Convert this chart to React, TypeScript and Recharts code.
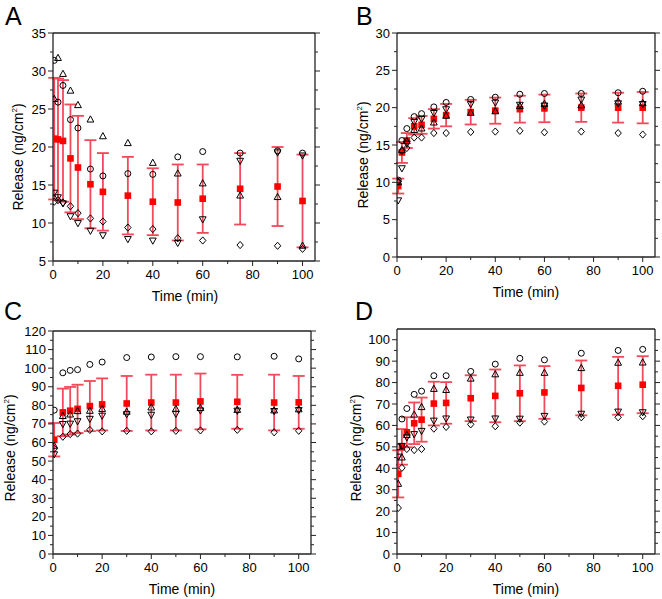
import { ErrorBar, Scatter, ScatterChart, XAxis, YAxis } from "recharts";

const TIMES = [0.5, 2, 4, 7, 10, 15, 20, 30, 40, 50, 60, 75, 90, 100];
const TIMES_C = [0.5, 4, 7, 10, 15, 20, 30, 40, 50, 60, 75, 90, 100];
const X_TICKS = [0, 10, 20, 30, 40, 50, 60, 70, 80, 90, 100];

// A
const A_CIRCLE = [31.4, 25.9, 28.1, 23.6, 22.5, 17.1, 16.2, 16.5, 16.4, 18.7, 19.4, 19.2, 19.5, 19.2];
const A_UP = [26.3, 31.7, 29.6, 27.4, 25.5, 23.6, 21.4, 20.5, 17.9, 16.5, 15.2, 13.6, 13.4, 7.0];
const A_DOWN = [14.0, 13.4, 12.6, 10.9, 10.0, 9.0, 8.4, 7.9, 7.7, 7.4, 10.5, 18.2, 19.3, 18.9];
const A_DIAMOND = [12.8, 13.0, 12.7, 12.2, 11.3, 10.6, 10.2, 9.4, 9.2, 8.0, 7.7, 7.1, 7.0, 6.6];
const A_MEAN = [21.1, 21.0, 20.8, 18.5, 17.3, 15.1, 14.1, 13.6, 12.8, 12.7, 13.2, 14.5, 14.8, 12.9];
const A_SD = [8.0, 8.0, 8.0, 7.1, 6.8, 5.8, 5.1, 5.1, 4.4, 5.0, 4.5, 4.7, 5.2, 6.1];
const A_YTICKS = [5, 7.5, 10, 12.5, 15, 17.5, 20, 22.5, 25, 27.5, 30, 32.5, 35];

// B
const B_CIRCLE = [10.3, 15.6, 17.2, 18.8, 19.2, 20.1, 20.7, 21.1, 21.4, 21.8, 21.9, 21.9, 22.0, 22.2];
const B_UP = [10.0, 14.3, 15.5, 17.0, 17.2, 18.0, 18.9, 19.3, 19.5, 20.2, 20.5, 20.3, 20.8, 20.6];
const B_DOWN = [7.6, 11.9, 15.2, 18.1, 18.5, 19.3, 19.8, 20.5, 20.7, 20.4, 20.3, 21.1, 20.6, 20.5];
const B_DIAMOND = [10.1, 14.2, 14.6, 16.0, 16.0, 16.6, 16.6, 16.75, 16.8, 16.9, 16.7, 16.8, 16.6, 16.4];
const B_MEAN = [9.5, 14.0, 15.6, 17.5, 17.7, 18.5, 19.0, 19.4, 19.6, 19.8, 19.9, 20.0, 20.0, 20.0];
const B_SD = [1.0, 1.4, 1.0, 1.1, 1.2, 1.3, 1.5, 1.65, 1.75, 1.8, 1.85, 1.9, 2.0, 2.1];
const B_YTICKS = [0, 2.5, 5, 7.5, 10, 12.5, 15, 17.5, 20, 22.5, 25, 27.5, 30];

// C
const C_CIRCLE = [77.4, 97.5, 98.8, 99.2, 102, 103.3, 105.7, 106, 106.2, 106.2, 106.1, 106.4, 105];
const C_UP = [58.2, 74.2, 75, 76.8, 77, 78, 76.5, 78.8, 78, 78.5, 77.5, 77.2, 77.8];
const C_DOWN = [53.7, 70, 70.2, 71.5, 72.8, 74.5, 75.3, 75, 75.5, 77.3, 77.2, 77, 77.5];
const C_DIAMOND = [56.7, 63.1, 64.5, 64.8, 66.8, 66, 66.3, 66, 66.3, 66.5, 66.8, 65.5, 66.3];
const C_MEAN = [61.5, 76.2, 77.1, 78.1, 79.6, 80.5, 81.0, 81.5, 81.5, 82.1, 81.9, 81.5, 81.6];
const C_SD = [9, 12.8, 12.8, 13, 13.5, 14, 14.8, 15, 15, 15, 14.5, 15, 14.2];
const C_YTICKS = [0, 5, 10, 15, 20, 25, 30, 35, 40, 45, 50, 55, 60, 65, 70, 75, 80, 85, 90, 95, 100, 105, 110, 115, 120];

// D
const D_CIRCLE = [50, 63, 67.9, 74.5, 76, 83.2, 83.2, 85.2, 88.6, 91.3, 90.6, 93.7, 95, 95.5];
const D_UP = [32.7, 45, 55.5, 65, 68.5, 77, 76.5, 81.8, 83.8, 84.5, 84.5, 86.7, 89.2, 89.3];
const D_DOWN = [45.5, 50.5, 54.5, 56, 57.5, 62.3, 63.3, 62.8, 63.3, 63.2, 64.5, 65.5, 66.5, 66.2];
const D_DIAMOND = [21.5, 40.2, 49, 48.5, 49, 58.5, 59.3, 60.5, 59.6, 61.3, 61.8, 63.8, 63.8, 64.3];
const D_MEAN = [37.4, 50, 56.8, 61, 62.7, 70.2, 70.5, 72.7, 73.8, 75, 75.4, 77.5, 78.5, 79];
const D_SD = [11, 8.3, 7, 9.7, 10.3, 10.2, 9.7, 10.7, 12.3, 13, 12.3, 12.8, 13.5, 13.3];
const D_YTICKS = [0, 5, 10, 15, 20, 25, 30, 35, 40, 45, 50, 55, 60, 65, 70, 75, 80, 85, 90, 95, 100];

const FONT = "Arial, 'Liberation Sans', Helvetica, sans-serif";
const AXIS = "#222";
const RED = "#ff0000";
const BAR = "#f24a58";

type Side = "bottom" | "top" | "left" | "right";
type Kind = "circle" | "up" | "down" | "diamond";

const tickFn = (side: Side, step: number, labels: boolean) => (props: any) => {
  const { x, y, payload } = props;
  const v = payload.value as number;
  const major = Math.abs(v / step - Math.round(v / step)) < 1e-6;
  const len = major ? 5 : 3;
  let line;
  let label = null;
  if (side === "bottom") {
    line = <line x1={x} y1={y} x2={x} y2={y + len} stroke={AXIS} strokeWidth={1} />;
    if (labels && major)
      label = (
        <text x={x} y={y + 18} textAnchor="middle" fontSize={13} fontFamily={FONT} fill="#000">
          {v}
        </text>
      );
  } else if (side === "top") {
    line = <line x1={x} y1={y} x2={x} y2={y - len} stroke={AXIS} strokeWidth={1} />;
  } else if (side === "left") {
    line = <line x1={x} y1={y} x2={x - len} y2={y} stroke={AXIS} strokeWidth={1} />;
    if (labels && major)
      label = (
        <text x={x - 7} y={y + 4.5} textAnchor="end" fontSize={13} fontFamily={FONT} fill="#000">
          {v}
        </text>
      );
  } else {
    line = <line x1={x} y1={y} x2={x + len} y2={y} stroke={AXIS} strokeWidth={1} />;
  }
  return (
    <g>
      {line}
      {label}
    </g>
  );
};

const marker = (kind: Kind) => (p: any) => {
  const { cx, cy } = p;
  if (cx == null || cy == null) return <g />;
  const common = { fill: "none", stroke: "#000", strokeWidth: 1 };
  if (kind === "circle") return <circle cx={cx} cy={cy} r={3} {...common} />;
  if (kind === "up")
    return <polygon points={`${cx},${cy - 3.8} ${cx - 3.4},${cy + 2.4} ${cx + 3.4},${cy + 2.4}`} {...common} />;
  if (kind === "down")
    return <polygon points={`${cx},${cy + 3.8} ${cx - 3.4},${cy - 2.4} ${cx + 3.4},${cy - 2.4}`} {...common} />;
  return <polygon points={`${cx},${cy - 3.6} ${cx + 3.2},${cy} ${cx},${cy + 3.6} ${cx - 3.2},${cy}`} {...common} />;
};

const square = (p: any) => {
  const { cx, cy } = p;
  if (cx == null || cy == null) return <g />;
  return <rect x={cx - 3.3} y={cy - 3.3} width={6.6} height={6.6} fill={RED} />;
};

interface PanelProps {
  left: number;
  top: number;
  plot: { l: number; r: number; t: number; b: number };
  times: number[];
  circle: number[];
  up: number[];
  down: number[];
  diamond: number[];
  mean: number[];
  sd: number[];
  yDomain: [number, number];
  yTicks: number[];
  yStep: number;
}

function Panel(p: PanelProps) {
  const W = 331;
  const H = 300;
  const margin = {
    left: p.plot.l - 40,
    right: W - p.plot.r - 6,
    top: p.plot.t - 6,
    bottom: H - p.plot.b - 30,
  };
  const pts = (arr: number[]) => p.times.map((t, i) => ({ x: t, y: arr[i] }));
  const meanRows = p.times.map((t, i) => ({ x: t, y: p.mean[i], sd: p.sd[i] }));
  const axisLine = { stroke: AXIS, strokeWidth: 1.3 };
  return (
    <div style={{ position: "absolute", left: p.left, top: p.top }}>
      <ScatterChart width={W} height={H} margin={margin}>
        <XAxis
          xAxisId={0}
          dataKey="x"
          type="number"
          domain={[0, 105]}
          allowDataOverflow
          ticks={X_TICKS}
          interval={0}
          height={30}
          tickSize={0}
          tickMargin={0}
          tickLine={false}
          axisLine={axisLine}
          tick={tickFn("bottom", 20, true)}
        />
        <XAxis
          xAxisId="top"
          orientation="top"
          type="number"
          domain={[0, 105]}
          allowDataOverflow
          ticks={X_TICKS}
          interval={0}
          height={6}
          tickSize={0}
          tickMargin={0}
          tickLine={false}
          axisLine={axisLine}
          tick={tickFn("top", 20, false)}
        />
        <YAxis
          yAxisId={0}
          dataKey="y"
          type="number"
          domain={p.yDomain}
          allowDataOverflow
          ticks={p.yTicks}
          interval={0}
          width={40}
          tickSize={0}
          tickMargin={0}
          tickLine={false}
          axisLine={axisLine}
          tick={tickFn("left", p.yStep, true)}
        />
        <YAxis
          yAxisId="right"
          orientation="right"
          type="number"
          domain={p.yDomain}
          allowDataOverflow
          ticks={p.yTicks}
          interval={0}
          width={6}
          tickSize={0}
          tickMargin={0}
          tickLine={false}
          axisLine={axisLine}
          tick={tickFn("right", p.yStep, false)}
        />
        <Scatter data={meanRows} shape={square} isAnimationActive={false}>
          <ErrorBar dataKey="sd" direction="y" width={6} stroke={BAR} strokeWidth={1.8} isAnimationActive={false} />
        </Scatter>
        <Scatter data={pts(p.circle)} shape={marker("circle")} isAnimationActive={false} />
        <Scatter data={pts(p.up)} shape={marker("up")} isAnimationActive={false} />
        <Scatter data={pts(p.down)} shape={marker("down")} isAnimationActive={false} />
        <Scatter data={pts(p.diamond)} shape={marker("diamond")} isAnimationActive={false} />
      </ScatterChart>
    </div>
  );
}

function YTitle({ x, y }: { x: number; y: number }) {
  return (
    <text x={x} y={y} transform={`rotate(-90 ${x} ${y})`} textAnchor="middle" fontSize={14} fontFamily={FONT} fill="#000">
      Release (ng/cm
      <tspan dy={-6} fontSize={8}>
        2
      </tspan>
      <tspan dy={6}>)</tspan>
    </text>
  );
}

function XTitle({ x, y }: { x: number; y: number }) {
  return (
    <text x={x} y={y} textAnchor="middle" fontSize={14} fontFamily={FONT} fill="#000">
      Time (min)
    </text>
  );
}

function Letter({ x, y, t }: { x: number; y: number; t: string }) {
  return (
    <text x={x} y={y} fontSize={25} fontFamily={FONT} fill="#000">
      {t}
    </text>
  );
}

export default function App() {
  return (
    <div style={{ position: "absolute", left: 0, top: 0, width: 662, height: 599, background: "#fff" }}>
      <Panel
        left={0}
        top={0}
        plot={{ l: 53, r: 315, t: 33, b: 261 }}
        times={TIMES}
        circle={A_CIRCLE}
        up={A_UP}
        down={A_DOWN}
        diamond={A_DIAMOND}
        mean={A_MEAN}
        sd={A_SD}
        yDomain={[5, 35]}
        yTicks={A_YTICKS}
        yStep={5}
      />
      <Panel
        left={331}
        top={0}
        plot={{ l: 66, r: 324, t: 33, b: 257 }}
        times={TIMES}
        circle={B_CIRCLE}
        up={B_UP}
        down={B_DOWN}
        diamond={B_DIAMOND}
        mean={B_MEAN}
        sd={B_SD}
        yDomain={[0, 30]}
        yTicks={B_YTICKS}
        yStep={5}
      />
      <Panel
        left={0}
        top={300}
        plot={{ l: 53, r: 311, t: 31, b: 254 }}
        times={TIMES_C}
        circle={C_CIRCLE}
        up={C_UP}
        down={C_DOWN}
        diamond={C_DIAMOND}
        mean={C_MEAN}
        sd={C_SD}
        yDomain={[0, 120]}
        yTicks={C_YTICKS}
        yStep={10}
      />
      <Panel
        left={331}
        top={300}
        plot={{ l: 66, r: 324, t: 29, b: 254 }}
        times={TIMES}
        circle={D_CIRCLE}
        up={D_UP}
        down={D_DOWN}
        diamond={D_DIAMOND}
        mean={D_MEAN}
        sd={D_SD}
        yDomain={[0, 105]}
        yTicks={D_YTICKS}
        yStep={10}
      />
      <svg width={662} height={599} style={{ position: "absolute", left: 0, top: 0, pointerEvents: "none" }}>
        <Letter x={5} y={25} t="A" />
        <Letter x={356} y={25} t="B" />
        <Letter x={4} y={320} t="C" />
        <Letter x={355} y={320} t="D" />
        <XTitle x={185} y={301} />
        <XTitle x={526} y={297} />
        <XTitle x={182} y={594} />
        <XTitle x={526} y={594} />
        <YTitle x={22.5} y={157} />
        <YTitle x={368} y={155} />
        <YTitle x={15} y={448} />
        <YTitle x={361} y={448} />
      </svg>
    </div>
  );
}
